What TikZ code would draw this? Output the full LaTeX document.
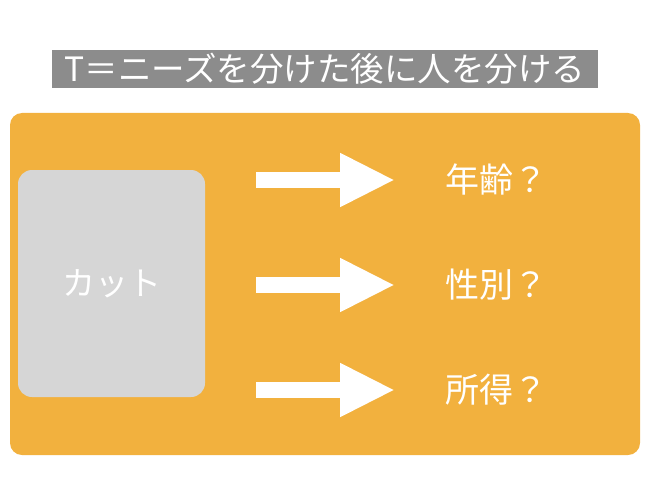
\documentclass[tikz,border=0pt]{standalone}
\usepackage{fontspec}
\newfontfamily\cjk{Noto Sans CJK JP}
\usetikzlibrary{positioning}
\usetikzlibrary{arrows.meta}
\definecolor{panelorange}{HTML}{F2B13E}
\definecolor{cutgray}{HTML}{D6D6D6}
\definecolor{titlegray}{HTML}{8C8C8C}
\tikzset{
	label/.style={text=white, font=\cjk\fontsize{34}{38}\selectfont, anchor=west, inner sep=0pt},
	bigarrow/.style={draw=white, line width=16pt, -{Triangle[length=55pt,width=50pt]}},
}
\begin{document}
\begin{tikzpicture}[x=1pt, y=-1pt]
	\useasboundingbox (0,0) rectangle (650,500);
	% title
	\node[fill=titlegray, text=white, font=\cjk\fontsize{33.5}{38}\selectfont, minimum width=546pt, minimum height=38pt, inner sep=0pt] (title) at (325,69) {T＝ニーズを分けた後に人を分ける};
	% panel
	\fill[panelorange, rounded corners=12pt] (10,113) rectangle (640,455);
	\node[fill=cutgray, rounded corners=14pt, minimum width=187pt, minimum height=227pt, text=white, font=\cjk\fontsize{33}{36}\selectfont] (cut) at (111.5,283.5) {カット};
	% arrows and labels
	\foreach \y/\txt/\name in {180/年齢？/age, 285/性別？/sex, 390/所得？/income}{
		\coordinate (\name s) at (256,\y);
		\coordinate (\name e) at (395,\y);
		\draw[bigarrow] (\name s) -- (\name e);
		\node[label] (\name) at (445,\y) {\txt};
	}
\end{tikzpicture}
\end{document}
